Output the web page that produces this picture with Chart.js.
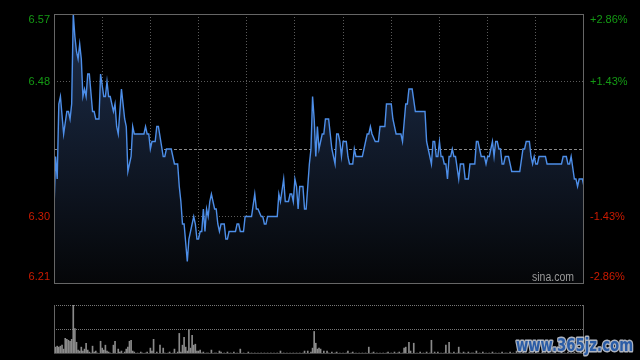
<!DOCTYPE html>
<html>
<head>
<meta charset="utf-8">
<script src="https://cdn.jsdelivr.net/npm/chart.js@4.4.0/dist/chart.umd.min.js"></script>
<style>
html, body { margin: 0; padding: 0; background: #000; }
#wrap { position: relative; width: 640px; height: 360px; }
#price_box { position: absolute; left: 0; top: 0; width: 640px; height: 290px; }
#vol_box { position: absolute; left: 0; top: 290px; width: 640px; height: 70px; }
</style>
</head>
<body>
<div id="wrap">
  <div id="price_box"><canvas id="price_chart"></canvas></div>
  <div id="vol_box"><canvas id="vol_chart"></canvas></div>
</div>
<script>
// minutes since open (HK session, 330 min) and price
var minutes = [0,1,2,3,4,6,8,9,10,11,12,13,14,15,16,17,18,19,20,21,22,24,25,26,28,29,31,32,33,34,35,37,38,39,40,42,44,45,46,48,49,50,56,57,58,59,60,61,63,64,65,68,69,70,73,75,77,78,79,80,81,83,84,86,87,88,89,90,91,92,93,94,95,96,97,98,100,101,102,103,104,106,107,108,109,113,114,115,116,118,119,123,125,126,127,129,130,131,132,133,139,140,141,143,144,146,147,148,149,150,151,152,153,155,156,157,159,160,161,162,163,164,165,167,168,169,171,172,173,175,176,177,178,179,180,182,183,184,186,187,188,192,193,195,196,197,198,200,202,203,206,207,210,211,213,216,217,219,220,221,223,225,231,232,233,235,236,237,238,239,240,241,242,243,244,245,246,247,248,249,250,252,253,255,256,258,259,262,263,264,266,268,269,270,271,272,273,274,275,276,277,278,279,280,281,283,285,290,292,293,294,296,297,298,299,300,301,302,306,307,316,317,319,320,321,322,324,325,326,327,329,330];
var prices = [6.31,6.38,6.35,6.45,6.46,6.41,6.44,6.44,6.43,6.45,6.57,6.54,6.52,6.51,6.53,6.51,6.46,6.47,6.46,6.49,6.49,6.44,6.44,6.43,6.43,6.49,6.46,6.46,6.48,6.46,6.46,6.44,6.45,6.42,6.41,6.47,6.43,6.42,6.36,6.38,6.42,6.41,6.41,6.42,6.41,6.41,6.39,6.40,6.40,6.42,6.42,6.38,6.38,6.39,6.39,6.37,6.37,6.34,6.32,6.29,6.29,6.24,6.27,6.29,6.30,6.29,6.27,6.27,6.28,6.28,6.31,6.28,6.31,6.30,6.32,6.33,6.31,6.31,6.29,6.28,6.29,6.29,6.27,6.27,6.28,6.28,6.29,6.29,6.28,6.28,6.30,6.30,6.33,6.31,6.31,6.30,6.30,6.29,6.29,6.30,6.30,6.33,6.32,6.35,6.32,6.32,6.33,6.33,6.32,6.35,6.34,6.31,6.34,6.34,6.31,6.31,6.37,6.39,6.46,6.43,6.38,6.42,6.39,6.41,6.41,6.43,6.43,6.41,6.39,6.37,6.41,6.41,6.40,6.38,6.40,6.40,6.38,6.37,6.37,6.39,6.38,6.38,6.39,6.41,6.41,6.42,6.41,6.40,6.40,6.42,6.42,6.45,6.45,6.43,6.41,6.41,6.40,6.45,6.45,6.47,6.47,6.44,6.44,6.40,6.39,6.37,6.40,6.40,6.38,6.38,6.40,6.38,6.38,6.37,6.37,6.35,6.38,6.38,6.39,6.38,6.38,6.35,6.37,6.37,6.35,6.35,6.37,6.37,6.40,6.40,6.38,6.38,6.37,6.38,6.38,6.39,6.40,6.38,6.40,6.40,6.39,6.39,6.37,6.37,6.38,6.38,6.36,6.36,6.39,6.39,6.40,6.40,6.38,6.37,6.38,6.37,6.37,6.38,6.38,6.37,6.37,6.38,6.38,6.37,6.37,6.38,6.35,6.35,6.34,6.35,6.35,6.34];

// volume bars (minute, size)
var vol_minutes = [0,1,2,3,4,5,6,7,8,9,10,11,12,13,14,15,16,17,18,19,20,21,22,23,24,25,26,27,29,30,31,32,33,34,35,37,38,40,41,42,44,45,46,47,48,49,50,52,54,55,57,58,60,61,62,64,66,68,69,71,72,74,75,77,78,79,80,81,82,83,84,85,86,87,88,89,90,91,92,93,95,96,98,100,101,103,104,106,108,110,112,114,116,118,121,123,125,127,129,131,133,135,137,139,141,143,145,147,149,151,153,155,156,158,160,161,162,163,164,165,166,168,170,171,173,175,176,178,180,182,183,185,186,188,190,192,194,196,198,199,201,203,205,207,208,210,212,214,215,217,218,219,221,222,224,226,228,230,232,234,235,237,239,241,243,244,246,247,249,251,252,253,255,256,258,260,261,263,265,267,269,271,273,275,277,279,281,282,284,286,288,290,292,294,296,298,300,302,304,306,308,310,312,314,316,318,320,322,324,326,328,330];
var vol_values = [14,7,8,7,8,9,5,16,15,14,13,15,50,26,12,4,3,7,3,5,11,4,2,1,8,2,3,1,13,6,4,9,3,2,1,9,13,5,2,3,2,5,7,13,14,3,2,1,2,1,1,2,6,3,15,2,9,6,1,1,2,1,5,2,21,2,9,17,7,3,25,6,19,9,10,3,3,4,1,2,1,1,4,1,1,3,2,1,2,1,2,1,5,1,2,1,1,1,1,1,1,1,1,1,3,1,1,1,1,1,1,1,3,3,2,6,23,11,5,6,5,3,3,1,2,1,2,1,1,1,3,1,2,1,1,1,1,7,1,2,1,1,1,1,2,1,2,1,2,1,6,7,12,3,11,1,2,1,2,1,14,2,2,1,1,9,12,1,2,1,7,1,2,1,2,1,1,3,1,2,1,1,2,1,1,2,1,1,2,1,3,1,2,1,2,1,2,1,2,1,2,1,2,1,2,1,2,1,2,1,2,3];

var prev_close = 6.39;
var price_ticks = [6.21, 6.30, 6.39, 6.48, 6.57];
var price_labels = ['6.21', '6.30', '', '6.48', '6.57'];
var pct_labels = ['-2.86%', '-1.43%', '', '+1.43%', '+2.86%'];

var up_color = '#149a14';
var down_color = '#cc1a00';
var grid_color = '#5a5a5a';

var price_data = minutes.map(function(m, i) { return {x: m, y: prices[i]}; });
var vol_data = vol_minutes.map(function(m, i) { return {x: m, y: vol_values[i]}; });

// frame, side labels and sina.com text
var price_deco = {
    id: 'price_deco',
    afterDraw: function(chart) {
        var ctx = chart.ctx, a = chart.chartArea, ys = chart.scales.y;
        ctx.save();
        ctx.strokeStyle = '#666';
        ctx.lineWidth = 1;
        ctx.strokeRect(a.left + 0.5, a.top + 0.5, a.right - a.left - 1, a.bottom - a.top - 1);
        ctx.font = '11px "Liberation Sans", Arial, sans-serif';
        ctx.textBaseline = 'middle';
        for (var i = 0; i < price_ticks.length; i++) {
            var y = ys.getPixelForValue(price_ticks[i]);
            y = Math.min(Math.max(y, a.top + 6), a.bottom - 7);
            ctx.fillStyle = price_ticks[i] > prev_close ? up_color : down_color;
            ctx.textAlign = 'right';
            ctx.fillText(price_labels[i], a.left - 4, y);
            ctx.textAlign = 'left';
            ctx.fillText(pct_labels[i], a.right + 6, y);
        }
        ctx.fillStyle = '#9a9a9a';
        ctx.font = '12px "Liberation Sans", Arial, sans-serif';
        ctx.textAlign = 'left';
        ctx.fillText('sina.com', 532, a.bottom - 6, 42);
        ctx.restore();
    }
};

var vol_deco = {
    id: 'vol_deco',
    afterDraw: function(chart) {
        var ctx = chart.ctx, a = chart.chartArea;
        ctx.save();
        ctx.strokeStyle = '#666';
        ctx.lineWidth = 1;
        ctx.beginPath();
        ctx.moveTo(a.left + 0.5, a.top);
        ctx.lineTo(a.left + 0.5, a.bottom);
        ctx.moveTo(a.right - 0.5, a.top);
        ctx.lineTo(a.right - 0.5, a.bottom);
        ctx.stroke();
        ctx.strokeStyle = '#444';
        ctx.beginPath();
        ctx.moveTo(a.left, a.bottom - 0.5);
        ctx.lineTo(a.right, a.bottom - 0.5);
        ctx.stroke();
        // site watermark
        ctx.font = 'bold 17px "DejaVu Sans", sans-serif';
        ctx.textAlign = 'left';
        ctx.textBaseline = 'alphabetic';
        ctx.lineJoin = 'round';
        ctx.lineWidth = 3;
        ctx.strokeStyle = 'rgba(205,212,225,0.85)';
        ctx.strokeText('www.365jz.com', 516, 61, 117);
        ctx.fillStyle = '#2a5ca6';
        ctx.fillText('www.365jz.com', 516, 61, 117);
        ctx.restore();
    }
};

// Gráfico de preço
var ctx = document.getElementById('price_chart');
var price_chart = new Chart(ctx, {
    type: 'line',
    data: {
        datasets: [{
            data: price_data,
            borderColor: '#4d8ee8',
            borderWidth: 1.4,
            pointRadius: 0,
            tension: 0,
            fill: 'start',
            backgroundColor: function(c) {
                var a = c.chart.chartArea;
                if (!a) return '#101a2c';
                var g = c.chart.ctx.createLinearGradient(0, a.top, 0, a.bottom);
                g.addColorStop(0, '#1d2e4c');
                g.addColorStop(1, '#050608');
                return g;
            }
        }]
    },
    options: {
        responsive: true,
        maintainAspectRatio: false,
        animation: false,
        devicePixelRatio: 1,
        layout: { padding: { left: 54, right: 56, top: 14, bottom: 6 } },
        plugins: { legend: { display: false }, tooltip: { enabled: false } },
        scales: {
            x: {
                type: 'linear', min: 0, max: 330,
                ticks: { display: false, stepSize: 30 },
                grid: {
                    drawTicks: false,
                    color: function(c) {
                        var v = c.tick ? c.tick.value : 0;
                        return (v > 0 && v < 330) ? grid_color : 'rgba(0,0,0,0)';
                    }
                },
                border: { display: false, dash: [1, 2] }
            },
            y: {
                min: 6.21, max: 6.57,
                afterBuildTicks: function(s) { s.ticks = price_ticks.map(function(v) { return {value: v}; }); },
                ticks: { display: false },
                grid: {
                    drawTicks: false,
                    color: function(c) {
                        var v = c.tick ? c.tick.value : 0;
                        if (v === prev_close) return '#8a8a8a';
                        return (v > 6.21 && v < 6.57) ? grid_color : 'rgba(0,0,0,0)';
                    }
                },
                border: {
                    display: false,
                    dash: function(c) { return (c.tick && c.tick.value === prev_close) ? [3, 2] : [1, 2]; }
                }
            }
        }
    },
    plugins: [price_deco]
});

// Gráfico de volume
var ctx = document.getElementById('vol_chart');
var vol_chart = new Chart(ctx, {
    type: 'bar',
    data: {
        datasets: [{
            data: vol_data,
            backgroundColor: '#8a8a8a',
            borderWidth: 0,
            barThickness: 1
        }]
    },
    options: {
        responsive: true,
        maintainAspectRatio: false,
        animation: false,
        devicePixelRatio: 1,
        layout: { padding: { left: 54, right: 56, top: 15, bottom: 6 } },
        plugins: { legend: { display: false }, tooltip: { enabled: false } },
        scales: {
            x: {
                type: 'linear', min: 0, max: 330, offset: false,
                ticks: { display: false },
                grid: { display: false, drawTicks: false },
                border: { display: false }
            },
            y: {
                min: 0, max: 50,
                afterBuildTicks: function(s) { s.ticks = [{value: 0}, {value: 25}, {value: 50}]; },
                ticks: { display: false },
                grid: {
                    drawTicks: false,
                    color: function(c) {
                        var v = c.tick ? c.tick.value : 0;
                        return v > 0 ? '#777' : 'rgba(0,0,0,0)';
                    }
                },
                border: { display: false, dash: [1, 1] }
            }
        }
    },
    plugins: [vol_deco]
});
</script>
</body>
</html>
